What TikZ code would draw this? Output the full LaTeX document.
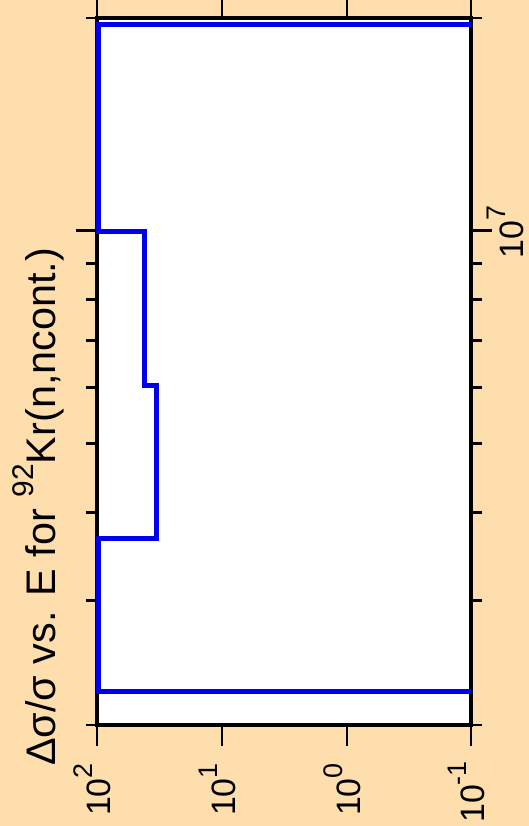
\documentclass[tikz,border=0pt]{standalone}
\usepackage{fontspec}
\setmainfont{Liberation Sans}
\definecolor{bgcol}{RGB}{255,222,173}
\definecolor{curve}{RGB}{0,0,235}
\newcommand{\supr}[1]{\raisebox{17.7bp}{\fontsize{27}{27}\selectfont #1}}
\newcommand{\tsupr}[1]{\raisebox{22bp}{\fontsize{30}{30}\selectfont #1}}
\begin{document}
\begin{tikzpicture}[x=1bp,y=-1bp,
  frame/.style={line width=4.5bp,black},
  tickln/.style={line width=2.8bp,black},
  curveln/.style={line width=5bp,curve,line join=miter},
  ticklab/.style={rotate=90,inner sep=0pt,font=\fontsize{34}{34}\selectfont},
  titlelab/.style={rotate=90,inner sep=0pt,font=\fontsize{41.5}{41.5}\selectfont}]
\useasboundingbox (0,0) rectangle (529,826);
\fill[bgcol] (0,0) rectangle (529,826);
% plot area
\filldraw[fill=white,draw=gray!60,line width=0.8bp] (97,18) rectangle (471,725);
% bottom/top ticks (x axis)
\foreach \x in {97,222,347,471}{
  \draw[tickln] (\x,725) -- (\x,746);
  \draw[tickln] (\x,18) -- (\x,0);
}
% y axis ticks
\foreach \y in {18,263.2,299.3,340.3,387.7,443.7,512.2,600.5,725}{
  \draw[tickln] (86,\y) -- (97,\y);
  \draw[tickln] (471,\y) -- (482,\y);
}
\draw[tickln] (76,230.8) -- (97,230.8);
\draw[tickln] (471,230.8) -- (492,230.8);
% frame
\draw[frame] (97,18) rectangle (471,725);
% curve
\coordinate (c0) at (471,24);
\coordinate (c1) at (98,24);
\coordinate (c2) at (98,231);
\coordinate (c3) at (144.5,231);
\coordinate (c4) at (144.5,385);
\coordinate (c5) at (156.5,385);
\coordinate (c6) at (156.5,538);
\coordinate (c7) at (98,538);
\coordinate (c8) at (98,691.5);
\coordinate (c9) at (471,691.5);
\draw[curveln] (c0) -- (c1) -- (c2) -- (c3) -- (c4) -- (c5) -- (c6) -- (c7) -- (c8) -- (c9);
% tick labels
\node[ticklab,anchor=base east] (l2) at (110,763) {10\supr{2}};
\node[ticklab,anchor=base east] (l1) at (235,763) {10\supr{1}};
\node[ticklab,anchor=base east] (l0) at (360,763) {10\supr{0}};
\node[ticklab,anchor=base east] (lm1) at (484,761) {10\supr{-1}};
\node[ticklab,anchor=base] (l7) at (523,232) {10\supr{7}};
% title
\node[titlelab,anchor=base] (title) at (55,507) {Δσ/σ vs. E for \tsupr{92}Kr(n,ncont.)};
\end{tikzpicture}
\end{document}
